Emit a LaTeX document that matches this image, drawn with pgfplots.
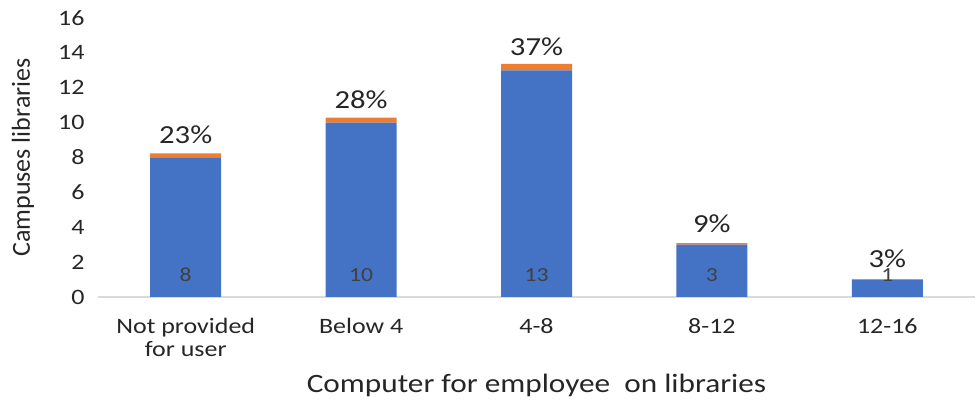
\documentclass[border=0pt]{standalone}
\usepackage{fontspec}
\setmainfont[FakeStretch=1.18]{Carlito}
\newfontfamily\ylabfont{Carlito}
\usepackage{pgfplots}
\pgfplotsset{compat=1.18}
\definecolor{cblue}{HTML}{4472C4}
\definecolor{corange}{HTML}{ED7D31}
\definecolor{caxis}{HTML}{D9D9D9}
\definecolor{ctext}{HTML}{262626}
\definecolor{cin}{HTML}{404040}
\begin{document}
\begin{tikzpicture}
\begin{axis}[
  scale only axis, width=877pt, height=279pt,
  xmin=-0.5, xmax=4.5, ymin=0, ymax=16,
  ybar stacked, bar width=71pt,
  axis x line*=bottom, axis y line*=left,
  x axis line style={draw=caxis, line width=1.5pt},
  y axis line style={draw=none},
  xtick style={draw=none}, ytick style={draw=none},
  ytick={0,2,...,16},
  xtick={0,1,2,3,4},
  xticklabels={{Not provided\\for user},{Below 4},{4-8},{8-12},{12-16}},
  /pgf/number format/assume math mode=true,
  yticklabel style={font=\fontsize{22}{24}\selectfont, text=ctext, xshift=-10pt},
  xticklabel style={font=\fontsize{22}{23}\selectfont, text=ctext, align=center, anchor=north, yshift=-18pt},
  xlabel={Computer for employee\ \ on libraries},
  xlabel style={font=\fontsize{26.5}{28}\selectfont, text=ctext, at={(axis description cs:0.5,0)}, anchor=base, yshift=-96pt},
  ylabel={\ylabfont Campuses libraries},
  ylabel style={font=\fontsize{26}{28}\selectfont, text=ctext, at={(axis description cs:0,0.5)}, anchor=center, yshift=75pt},
]
\addplot[fill=cblue, draw=none] coordinates {(0,8) (1,10) (2,13) (3,3) (4,1)};
\addplot[fill=corange, draw=none, nodes near coords, point meta=explicit symbolic,
  nodes near coords style={font=\fontsize{26}{28}\selectfont, text=ctext, anchor=south, yshift=8pt}]
  coordinates {(0,0.23)[23\%] (1,0.28)[28\%] (2,0.37)[37\%] (3,0.09)[9\%] (4,0.03)[3\%]};
\end{axis}
\begin{axis}[
  scale only axis, width=877pt, height=279pt,
  xmin=-0.5, xmax=4.5, ymin=0, ymax=16,
  hide axis,
]
\addplot[draw=none, mark=none, nodes near coords, point meta=explicit symbolic,
  nodes near coords style={font=\fontsize{20}{22}\selectfont, text=cin, anchor=center}]
  coordinates {(0,1.25)[8] (1,1.25)[10] (2,1.25)[13] (3,1.25)[3] (4,1.25)[1]};
\end{axis}
\pgfresetboundingbox
\path (current axis.south west) ++(-98pt,-106pt) rectangle ++(977pt,403pt);
\end{tikzpicture}
\end{document}
